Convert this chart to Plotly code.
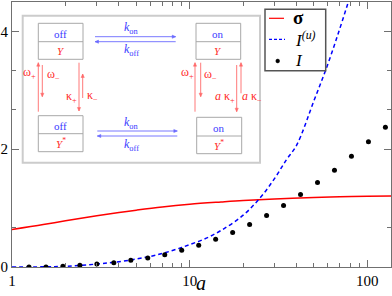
import math
import plotly.graph_objects as go

# ---------------- data ----------------
sigma_a = [1, 1.5, 2, 3, 4, 5, 7, 10, 15, 20, 30, 50, 70, 100, 136]
sigma_vals = [0.636, 0.72, 0.785, 0.87, 0.925, 0.965, 1.02, 1.066, 1.105, 1.13,
              1.155, 1.18, 1.192, 1.20, 1.207]

iu_a = [1, 1.5, 2, 3, 4, 5, 6, 7, 8, 9, 10, 12, 15, 20, 25, 30, 35, 40, 50, 60, 70, 80, 90]
iu_vals = [0, 0.003, 0.012, 0.05, 0.09, 0.135, 0.18, 0.23, 0.28, 0.33, 0.38, 0.47,
           0.62, 0.88, 1.18, 1.5, 1.82, 2.07, 2.82, 3.45, 4.05, 4.6, 5.1]

i_a = [1.246, 1.553, 1.934, 2.410, 3.003, 3.742, 4.663, 5.810, 7.239, 9.019,
       11.24, 14.00, 17.45, 21.74, 27.09, 33.75, 42.05, 52.40, 65.29, 81.35,
       101.4, 126.3]
i_vals = [0.0, 0.002, 0.011, 0.028, 0.051, 0.073, 0.114, 0.153, 0.21, 0.284,
          0.37, 0.47, 0.585, 0.72, 0.875, 1.045, 1.23, 1.435, 1.645, 1.88,
          2.125, 2.375]

series_names = ["<b>σ</b>", "<i>I</i><sup><i>(u)</i></sup>", "<i>I</i>"]

x_tickvals = [1, 10, 100]
x_ticktext = ["1", "10", "100"]
y_tickvals = [0, 2, 4]
y_ticktext = ["0", "2", "4"]
y_minor = [2 / 3, 8 / 3, 10 / 3]

# ---------------- layout geometry ----------------
W_PX, H_PX = 392, 296
L, R, T, B = 12, 1, 2, 29
PW = W_PX - L - R
PH = H_PX - T - B


def px(x):
    return (x - L) / PW


def py(y):
    return (T + PH - y) / PH


SERIF = "Liberation Serif, Times New Roman, serif"
AXC = "#707070"
RED = "#ff0000"
BLUE = "#0000ff"

fig = go.Figure()
fig.add_trace(go.Scatter(x=sigma_a, y=sigma_vals, mode="lines", name=series_names[0],
                         showlegend=False,
                         line=dict(color=RED, width=1.5, shape="spline")))
fig.add_trace(go.Scatter(x=iu_a, y=iu_vals, mode="lines", name=series_names[1],
                         showlegend=False,
                         line=dict(color=BLUE, width=1.5, dash="4px,3px",
                                   shape="spline")))
fig.add_trace(go.Scatter(x=i_a, y=i_vals, mode="markers", name=series_names[2],
                         showlegend=False,
                         marker=dict(color="black", size=5)))

shapes = []
annotations = []


def label(cx, cy, text, color, size=11, anchor="center"):
    annotations.append(dict(xref="paper", yref="paper", x=px(cx), y=py(cy),
                            xanchor=anchor, yanchor="middle", text=text,
                            showarrow=False,
                            font=dict(family=SERIF, size=size, color=color)))


# ---------------- inset diagram ----------------
shapes.append(dict(type="rect", xref="paper", yref="paper",
                   x0=px(22.7), x1=px(260), y0=py(162.7), y1=py(15.7),
                   line=dict(color="#cccccc", width=2), fillcolor="white",
                   layer="above"))

boxes = [
    (38.3, 83.0, 23.3, 59.3, 41.7, "off", "<i>Y</i>"),
    (196.0, 240.7, 23.3, 59.3, 41.7, "on", "<i>Y</i>"),
    (38.3, 83.0, 115.7, 151.7, 133.7, "off", "<i>Y</i><sup>*</sup>"),
    (196.7, 241.7, 117.3, 153.7, 136.0, "on", "<i>Y</i><sup>*</sup>"),
]
BLUE_T = "#3a3aff"
RED_T = "#ff2a2a"
for x0, x1, y0, y1, ym, top, bot in boxes:
    shapes.append(dict(type="rect", xref="paper", yref="paper",
                       x0=px(x0), x1=px(x1), y0=py(y1), y1=py(y0),
                       line=dict(color="#a8a8a8", width=1), layer="above"))
    shapes.append(dict(type="line", xref="paper", yref="paper",
                       x0=px(x0), x1=px(x1), y0=py(ym), y1=py(ym),
                       line=dict(color="#a8a8a8", width=1), layer="above"))
    cx = (x0 + x1) / 2
    label(cx, (y0 + ym) / 2 + 1.5, top, BLUE_T, 11)
    label(cx, (ym + y1) / 2 + 0.5, bot, RED_T, 11)


def arrow(hx, hy, tx, ty, color):
    shapes.append(dict(type="line", xref="paper", yref="paper",
                       x0=px(tx), y0=py(ty), x1=px(hx), y1=py(hy),
                       line=dict(color=color, width=0.9), layer="above"))
    d = math.hypot(hx - tx, hy - ty)
    ux, uy = (hx - tx) / d, (hy - ty) / d
    bx, by = hx - 3.5 * ux, hy - 3.5 * uy
    qx, qy = -uy * 1.6, ux * 1.6
    path = "M{:.5f},{:.5f} L{:.5f},{:.5f} L{:.5f},{:.5f} Z".format(
        px(hx), py(hy), px(bx + qx), py(by + qy), px(bx - qx), py(by - qy))
    shapes.append(dict(type="path", xref="paper", yref="paper", path=path,
                       fillcolor=color, line=dict(color=color, width=0.5),
                       layer="above"))


BLUE_A = "#6a6aff"
RED_A = "#ff6a6a"
arrow(175.7, 36.7, 95.0, 36.7, BLUE_A)
arrow(95.0, 41.7, 175.7, 41.7, BLUE_A)
arrow(177.3, 131.0, 97.3, 131.0, BLUE_A)
arrow(97.3, 136.0, 177.3, 136.0, BLUE_A)
arrow(38.3, 62.7, 38.3, 111.7, RED_A)
arrow(42.3, 96.7, 42.3, 65.0, RED_A)
arrow(79.0, 111.0, 79.0, 62.7, RED_A)
arrow(82.7, 74.0, 82.7, 98.0, RED_A)
arrow(195.0, 62.7, 195.0, 111.7, RED_A)
arrow(200.7, 96.7, 200.7, 62.7, RED_A)
arrow(236.7, 111.7, 236.7, 65.0, RED_A)
arrow(241.0, 62.7, 241.0, 93.3, RED_A)

label(131, 28.5, "<i>k</i><sub>on</sub>", BLUE_T, 12)
label(131, 50, "<i>k</i><sub>off</sub>", BLUE_T, 12)
label(131, 123, "<i>k</i><sub>on</sub>", BLUE_T, 12)
label(131, 145, "<i>k</i><sub>off</sub>", BLUE_T, 12)

label(29, 73, "ω<sub>+</sub>", RED_T, 12)
label(53, 74.5, "ω<sub>−</sub>", RED_T, 12)
label(71.5, 96.5, "κ<sub>+</sub>", RED_T, 12)
label(92, 96, "κ<sub>−</sub>", RED_T, 12)
label(187.5, 73, "ω<sub>+</sub>", RED_T, 12)
label(210, 74.5, "ω<sub>−</sub>", RED_T, 12)
label(225, 96.5, "<i>a</i> κ<sub>+</sub>", RED_T, 12)
label(252, 96.5, "<i>a</i> κ<sub>−</sub>", RED_T, 12)

# ---------------- legend (drawn) ----------------
shapes.append(dict(type="rect", xref="paper", yref="paper",
                   x0=px(265), x1=px(325.7), y0=py(70.7), y1=py(9.3),
                   line=dict(color="#555555", width=1.5), fillcolor="white",
                   layer="above"))
shapes.append(dict(type="line", xref="paper", yref="paper",
                   x0=px(269), x1=px(284), y0=py(18.3), y1=py(18.3),
                   line=dict(color=RED, width=1.2), layer="above"))
shapes.append(dict(type="line", xref="paper", yref="paper",
                   x0=px(269), x1=px(285), y0=py(39.3), y1=py(39.3),
                   line=dict(color=BLUE, width=1.2, dash="3px,2px"), layer="above"))
shapes.append(dict(type="circle", xref="paper", yref="paper",
                   x0=px(275.8), x1=px(279.6), y0=py(62.9), y1=py(59.1),
                   line=dict(color="black", width=0.5), fillcolor="black",
                   layer="above"))
label(291, 18, series_names[0], "black", 19, anchor="left")
label(293, 39, series_names[1], "black", 17, anchor="left")
label(293, 61, series_names[2], "black", 17, anchor="left")

# x-axis title
label(201, 283, "<i>a</i>", "black", 20)

fig.update_layout(
    width=W_PX, height=H_PX,
    margin=dict(l=L, r=R, t=T, b=B, pad=0),
    paper_bgcolor="white", plot_bgcolor="white",
    font=dict(family=SERIF, size=14, color="black"),
    shapes=shapes, annotations=annotations,
    showlegend=False,
)
fig.update_xaxes(type="log", range=[0, 2.133], tickvals=x_tickvals, ticktext=x_ticktext,
                 ticks="inside", ticklen=7, tickcolor=AXC, tickwidth=1,
                 showline=True, linecolor=AXC, linewidth=1, mirror="allticks",
                 showgrid=False, zeroline=False, automargin=False,
                 tickfont=dict(family=SERIF, size=15),
                 minor=dict(ticks="inside", ticklen=4, tickcolor=AXC, dtick="D1",
                            showgrid=False))
fig.update_yaxes(range=[0, 4.5], tickvals=y_tickvals, ticktext=y_ticktext,
                 ticks="inside", ticklen=7, tickcolor=AXC, tickwidth=1,
                 showline=True, linecolor=AXC, linewidth=1, mirror="allticks",
                 showgrid=False, zeroline=False, automargin=False,
                 tickfont=dict(family=SERIF, size=15),
                 minor=dict(ticks="inside", ticklen=4, tickcolor=AXC,
                            tickmode="array", tickvals=y_minor, showgrid=False))

fig.write_html("out.html", config={"displayModeBar": False},
               post_script="document.body.style.margin='0';document.body.style.padding='0';")
